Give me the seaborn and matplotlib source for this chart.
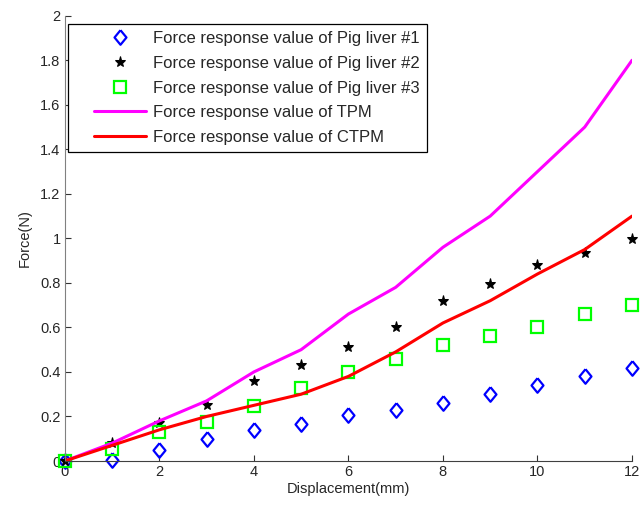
import matplotlib
matplotlib.use('Agg')
import matplotlib.pyplot as plt
import seaborn as sns
from matplotlib.ticker import FuncFormatter
from matplotlib.lines import Line2D
from matplotlib.legend_handler import HandlerLine2D

sns.set_style('white')
plt.rcParams['font.family'] = ['Liberation Sans', 'DejaVu Sans']
plt.rcParams['font.size'] = 10

disp = [0, 1, 2, 3, 4, 5, 6, 7, 8, 9, 10, 11, 12]
liver1 = [0, 0.005, 0.05, 0.10, 0.14, 0.165, 0.205, 0.23, 0.26, 0.30, 0.34, 0.38, 0.42]
liver2 = [0, 0.08, 0.17, 0.25, 0.36, 0.43, 0.51, 0.60, 0.72, 0.795, 0.88, 0.935, 0.995]
liver3 = [0, 0.055, 0.13, 0.175, 0.245, 0.33, 0.40, 0.46, 0.52, 0.56, 0.60, 0.66, 0.70]
tpm = [0, 0.08, 0.18, 0.27, 0.40, 0.50, 0.66, 0.78, 0.96, 1.10, 1.30, 1.50, 1.80]
ctpm = [0, 0.07, 0.14, 0.20, 0.25, 0.30, 0.38, 0.49, 0.62, 0.72, 0.84, 0.95, 1.10]

# MATLAB-style diamond (slightly taller than wide)
diamond = [(0, 1), (0.82, 0), (0, -1), (-0.82, 0), (0, 1)]

fig = plt.figure(figsize=(6.41, 5.08), dpi=100)
ax = fig.add_axes([0.101, 0.0925, 0.885, 0.8765])

sns.lineplot(x=disp, y=liver1, ax=ax, linestyle='', marker=diamond, ms=10.5,
             mfc='none', mec='blue', mew=1.6, color='blue', clip_on=False,
             label='Force response value of Pig liver #1')
sns.lineplot(x=disp, y=liver2, ax=ax, linestyle='', marker='*', ms=8,
             mfc='black', mec='black', color='black', clip_on=False,
             label='Force response value of Pig liver #2')
sns.lineplot(x=disp, y=liver3, ax=ax, linestyle='', marker='s', ms=8,
             mfc='none', mec='#00ff00', mew=1.6, color='#00ff00', clip_on=False,
             label='Force response value of Pig liver #3')
sns.lineplot(x=disp, y=tpm, ax=ax, color='#ff00ff', lw=2.2,
             label='Force response value of TPM')
sns.lineplot(x=disp, y=ctpm, ax=ax, color='#ff0000', lw=2.2,
             label='Force response value of CTPM')

ax.set_xlim(0, 12)
ax.set_ylim(0, 2)
ax.set_xticks(range(0, 13, 2))
ax.set_yticks([i * 0.2 for i in range(11)])
ax.yaxis.set_major_formatter(FuncFormatter(lambda v, p: '%g' % round(v, 1)))
ax.tick_params(direction='in', length=4, color='#333333', labelsize=10.5, pad=3,
               left=True, bottom=True)
for s in ['top', 'right']:
    ax.spines[s].set_visible(False)
ax.spines['left'].set_color('#808080')
ax.spines['bottom'].set_color('#404040')
ax.set_xlabel('Displacement(mm)', fontsize=10.5, labelpad=2)
ax.set_ylabel('Force(N)', fontsize=10.5, labelpad=6)

leg = ax.legend(loc='upper left', bbox_to_anchor=(0.005, 0.982), frameon=True,
                fancybox=False, edgecolor='black', framealpha=1,
                handlelength=4.25, handletextpad=0.42, labelspacing=0.58,
                borderpad=0.45, borderaxespad=0, fontsize=12,
                handler_map={Line2D: HandlerLine2D(xpad=1.13)})
leg.get_frame().set_linewidth(0.9)

fig.savefig('out.png', dpi=100)
